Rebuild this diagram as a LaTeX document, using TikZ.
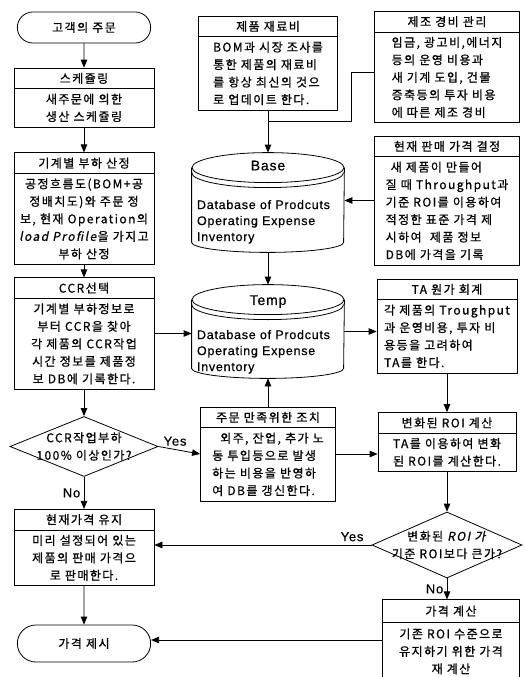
\documentclass[tikz,border=0pt]{standalone}
\usepackage{fontspec}
\setmainfont{Noto Sans CJK KR}[LetterSpace=12,AutoFakeSlant=0.2,FakeBold=0.8]
\newfontfamily\dbfont{Liberation Sans}[LetterSpace=6,FakeBold=0.6]
\usetikzlibrary{positioning}
\usetikzlibrary{shapes.geometric,shapes.misc,shapes.multipart}
\usetikzlibrary{arrows.meta,calc}

\begin{document}
\begin{tikzpicture}[x=1pt,y=1pt,on grid,node distance=100pt,
		>={Triangle[length=8pt,width=6.5pt]},line width=0.8pt,
		font=\fontsize{12}{17.5}\selectfont,
		block/.style={rectangle split,rectangle split parts=2,draw,align=center,
			inner xsep=3pt,inner ysep=4.5pt,minimum width=140pt},
		term/.style={rounded rectangle,draw,minimum width=140pt,minimum height=31pt},
		decision/.style={diamond,draw,inner sep=0pt,minimum width=148pt,minimum height=60pt},
		db/.style={minimum width=152pt,inner sep=0pt},
		dbtitle/.style={font=\dbfont\fontsize{14}{14}\selectfont},
		dbtext/.style={anchor=north west,align=left,inner sep=0pt,font=\dbfont\fontsize{12.5}{16}\selectfont},
		yn/.style={font=\dbfont\fontsize{13}{13}\selectfont}]
		\useasboundingbox (0,0) rectangle (525,-677);
		
		% left column
		\node[term]   (start)                          at (84,-27.5) {고객의 주문};
		\node[block]  (sched)  [below=70pt of start]   {스케쥴링\nodepart{two}새주문에 의한\\생산 스케쥴링};
		\node[block]  (load)   [below=111pt of sched]  {기계별 부하 산정\nodepart{two}공정흐름도(BOM+공\\정배치도)와 주문 정\\보, 현재 Operation의\\\textit{load Profile}을 가지고\\부하 산정};
		\node[block]  (ccr)    [below=125pt of load]   {CCR선택\nodepart{two}기계별 부하정보로\\부터 CCR을 찾아\\각 제품의 CCR작업\\시간 정보를 제품정\\보 DB에 기록한다.};
		\node[decision] (dec1) [below=113pt of ccr,
			label={[align=center]center:CCR작업부하\\100\% 이상인가?}] {};
		\node[block]  (keep)   [below=101pt of dec1]   {현재가격 유지\nodepart{two}미리 설정되어 있는\\제품의 판매 가격으\\로 판매한다.};
		\node[term,minimum height=37pt] (end) [below=96pt of keep] {가격 제시};
		
		% middle column
		\node[block,align=left,minimum width=139pt] (mat) at (268,-63) {제품 재료비\nodepart{two}BOM과 시장 조사를\\통한 제품의 재료비\\를 항상 최신의 것으\\로 업데이트 한다.};
		\node[db,minimum height=99pt] (base)  [below=139.5pt of mat]  {};
		\node[db,minimum height=93pt] (temp)  [below=129pt of base]   {};
		\node[block,align=left,minimum width=135pt] (act) [below=122.5pt of temp] {주문 만족위한 조치\nodepart{two}\hspace*{8pt}외주, 잔업, 추가 노\\동 투입등으로 발생\\하는 비용을 반영하\\여 DB를 갱신한다.};
		
		% right column
		\node[block,align=left,minimum width=145pt] (cost) at (447,-67) {제조 경비 관리\nodepart{two}임금, 광고비,에너지\\등의 운영 비용과\\새 기계 도입, 건물\\증축등의 투자 비용\\에 따른 제조 경비};
		\node[block,align=left,minimum width=145pt] (price) [below=133.5pt of cost] {현재 판매 가격 결정\nodepart{two}\hspace*{5pt}새 제품이 만들어\\질 때 Throughput과\\기준 ROI를 이용하여\\적정한 표준 가격 제\\시하여\ \ 제품 정보\\DB에 가격을 기록};
		\node[block,align=left] (ta)    [below=125.5pt of price] {TA 원가 회계\nodepart{two}각 제품의 Troughput\\과 운영비용, 투자 비\\용등을 고려하여\\TA를 한다.};
		\node[block,minimum width=138pt] (roi) [below=116pt of ta] {변화된 ROI 계산\nodepart{two}TA를 이용하여 변화\\된 ROI를 계산한다.};
		\node[decision,minimum width=150pt,minimum height=66pt] (dec2) [below=103pt of roi,
			label={[align=center]center:변화된 \textit{ROI 가}\\기준 ROI보다 큰가?}] {};
		\node[block,minimum width=137pt,inner ysep=5.5pt] (calc) [below=95pt of dec2, xshift=4pt] {가격 계산\nodepart{two}기존 ROI 수준으로\\유지하기 위한 가격\\재 계산};
		
		% databases
		\foreach \db in {base,temp}{
			\draw ([yshift=-15]\db.north) ellipse [x radius=76pt, y radius=15pt];
			\draw ([yshift=-20]\db.north west) arc [start angle=180,end angle=360,x radius=76pt,y radius=15pt];
			\draw ([yshift=-15]\db.north west) -- ([yshift=10]\db.south west)
			arc [start angle=180,end angle=360,x radius=76pt,y radius=10pt] -- ([yshift=-15]\db.north east);
		}
		\node[dbtitle] (basetitle) at ([yshift=-13]base.north) {Base};
		\node[dbtext]  (basetext)  at ([xshift=5,yshift=-47]base.north west) {Database of Prodcuts\\Operating Expense\\Inventory};
		\node[dbtitle] (temptitle) at ([yshift=-17]temp.north) {Temp};
		\node[dbtext]  (temptext)  at ([xshift=5,yshift=-45]temp.north west) {Database of Prodcuts\\Operating Expense\\Inventory};
		
		\coordinate (join) at ([yshift=-11]mat.south);
		
		\path[->]
		(start) edge (sched)
		(sched) edge (load)
		(load) edge (ccr)
		(ccr) edge (dec1)
		(dec1) edge node[yn,left] {No} (keep)
		(keep) edge (end)
		(dec1.east) edge node[yn,above,pos=0.4] {Yes} (act.west)
		(mat) edge (base)
		(base) edge (temp)
		(act) edge (temp)
		(ta) edge (roi)
		(roi) edge (dec2)
		(dec2.south) edge node[yn,left] {No} (dec2.south |- calc.north);
		
		\draw ([yshift=-5]cost.west) -- ++(-23,0) |- (join);
		\draw[->] (price.west) -- (price.west -| base.east);
		\draw[->] (ccr.east) -- (ccr.east -| temp.west);
		\draw[->] (temp.east) -- (temp.east -| ta.west);
		\draw[->] (act.east) -- (act.east -| roi.west);
		\draw[->] (dec2.west) -- node[yn,above,pos=0.09] {Yes} (dec2.west -| keep.east);
		\draw[->] (calc.west) -- (calc.west -| end.east);
\end{tikzpicture}
\end{document}
